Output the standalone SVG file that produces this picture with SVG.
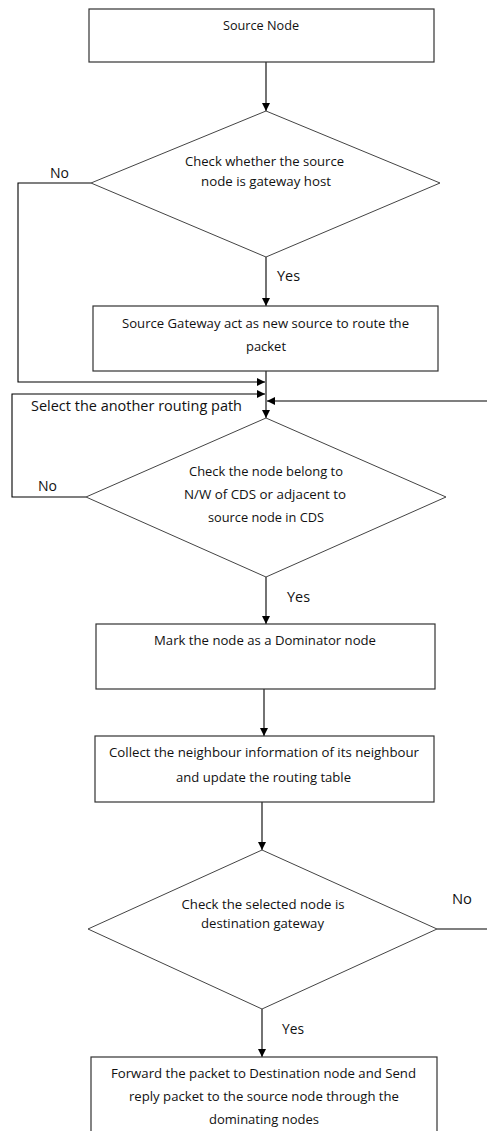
<svg xmlns="http://www.w3.org/2000/svg" width="487" height="1131" viewBox="0 0 487 1131">
  <style>
    .box { fill: #ffffff; stroke: #333333; stroke-width: 1.2; }
    .dia { fill: #ffffff; stroke: #444444; stroke-width: 1; }
    .wire { fill: none; stroke: #000000; stroke-width: 1.1; }
    .t { font-family: "Open Sans", "Liberation Sans", Arial, sans-serif; font-size: 12.5px; fill: #111111; text-anchor: middle; }
    .lbl { font-family: "Open Sans", "Liberation Sans", Arial, sans-serif; font-size: 14px; fill: #111111; }
  </style>
  <defs>
    <marker id="arrow" markerUnits="userSpaceOnUse" markerWidth="10" markerHeight="10" refX="8" refY="4" orient="auto">
      <path d="M0,0 L8,4 L0,8 Z" fill="#000000"/>
    </marker>
  </defs>

  <rect width="487" height="1131" fill="#ffffff"/>

  <!-- connectors -->
  <g id="connectors">
    <path class="wire" d="M266,62 V111" marker-end="url(#arrow)"/>
    <path class="wire" d="M266,257 V306" marker-end="url(#arrow)"/>
    <path class="wire" d="M91,183 H18 V382 H265" marker-end="url(#arrow)"/>
    <path class="wire" d="M266,371 V418" marker-end="url(#arrow)"/>
    <path class="wire" d="M86,497 H12 V394 H265" marker-end="url(#arrow)"/>
    <path class="wire" d="M437,929 H492 V401 H267" marker-end="url(#arrow)"/>
    <path class="wire" d="M266,577 V624" marker-end="url(#arrow)"/>
    <path class="wire" d="M264,689 V736" marker-end="url(#arrow)"/>
    <path class="wire" d="M262,802 V850" marker-end="url(#arrow)"/>
    <path class="wire" d="M262,1009 V1057" marker-end="url(#arrow)"/>
  </g>

  <!-- edge labels -->
  <g id="labels">
    <text class="lbl" x="50" y="178" textLength="19" lengthAdjust="spacingAndGlyphs">No</text>
    <text class="lbl" x="277" y="281" textLength="23" lengthAdjust="spacingAndGlyphs">Yes</text>
    <text class="lbl" x="31" y="411" textLength="211" lengthAdjust="spacingAndGlyphs">Select the another routing path</text>
    <text class="lbl" x="38" y="491" textLength="19" lengthAdjust="spacingAndGlyphs">No</text>
    <text class="lbl" x="287" y="602" textLength="23" lengthAdjust="spacingAndGlyphs">Yes</text>
    <text class="lbl" x="452" y="904" textLength="20" lengthAdjust="spacingAndGlyphs">No</text>
    <text class="lbl" x="282" y="1034" textLength="22" lengthAdjust="spacingAndGlyphs">Yes</text>
  </g>

  <g id="source-node">
    <rect class="box" x="89" y="9" width="345" height="53"/>
    <text class="t" x="261" y="30" textLength="76" lengthAdjust="spacingAndGlyphs">Source Node</text>
  </g>

  <g id="check-gateway-host">
    <polygon class="dia" points="266,111 440,183 266,257 91,183"/>
    <text class="t" x="264.5" y="166" textLength="159" lengthAdjust="spacingAndGlyphs">Check whether the source</text>
    <text class="t" x="266" y="186" textLength="130" lengthAdjust="spacingAndGlyphs">node is gateway host</text>
  </g>

  <g id="source-gateway">
    <rect class="box" x="93" y="306" width="345" height="65"/>
    <text class="t" x="265.5" y="328" textLength="287" lengthAdjust="spacingAndGlyphs">Source Gateway act as new source to route the</text>
    <text class="t" x="266" y="351" textLength="40" lengthAdjust="spacingAndGlyphs">packet</text>
  </g>

  <g id="check-cds">
    <polygon class="dia" points="266,418 446,497 266,577 86,497"/>
    <text class="t" x="266" y="476" textLength="154" lengthAdjust="spacingAndGlyphs">Check the node belong to</text>
    <text class="t" x="265" y="499" textLength="162" lengthAdjust="spacingAndGlyphs">N/W of CDS or adjacent to</text>
    <text class="t" x="266" y="522" textLength="116" lengthAdjust="spacingAndGlyphs">source node in CDS</text>
  </g>

  <g id="mark-dominator">
    <rect class="box" x="96" y="624" width="339" height="65"/>
    <text class="t" x="265" y="645" textLength="222" lengthAdjust="spacingAndGlyphs">Mark the node as a Dominator node</text>
  </g>

  <g id="collect-neighbours">
    <rect class="box" x="95" y="736" width="339" height="66"/>
    <text class="t" x="264" y="757" textLength="310" lengthAdjust="spacingAndGlyphs">Collect the neighbour information of its neighbour</text>
    <text class="t" x="263.5" y="782" textLength="175" lengthAdjust="spacingAndGlyphs">and update the routing table</text>
  </g>

  <g id="check-destination">
    <polygon class="dia" points="262,850 437,929 262,1009 88,929"/>
    <text class="t" x="263" y="909" textLength="163" lengthAdjust="spacingAndGlyphs">Check the selected node is</text>
    <text class="t" x="262.5" y="928" textLength="123" lengthAdjust="spacingAndGlyphs">destination gateway</text>
  </g>

  <g id="forward-packet">
    <rect class="box" x="91" y="1057" width="346" height="80"/>
    <text class="t" x="263.5" y="1078" textLength="305" lengthAdjust="spacingAndGlyphs">Forward the packet to Destination node and Send</text>
    <text class="t" x="264" y="1101" textLength="270" lengthAdjust="spacingAndGlyphs">reply packet to the source node through the</text>
    <text class="t" x="264" y="1124" textLength="110" lengthAdjust="spacingAndGlyphs">dominating nodes</text>
  </g>
</svg>
